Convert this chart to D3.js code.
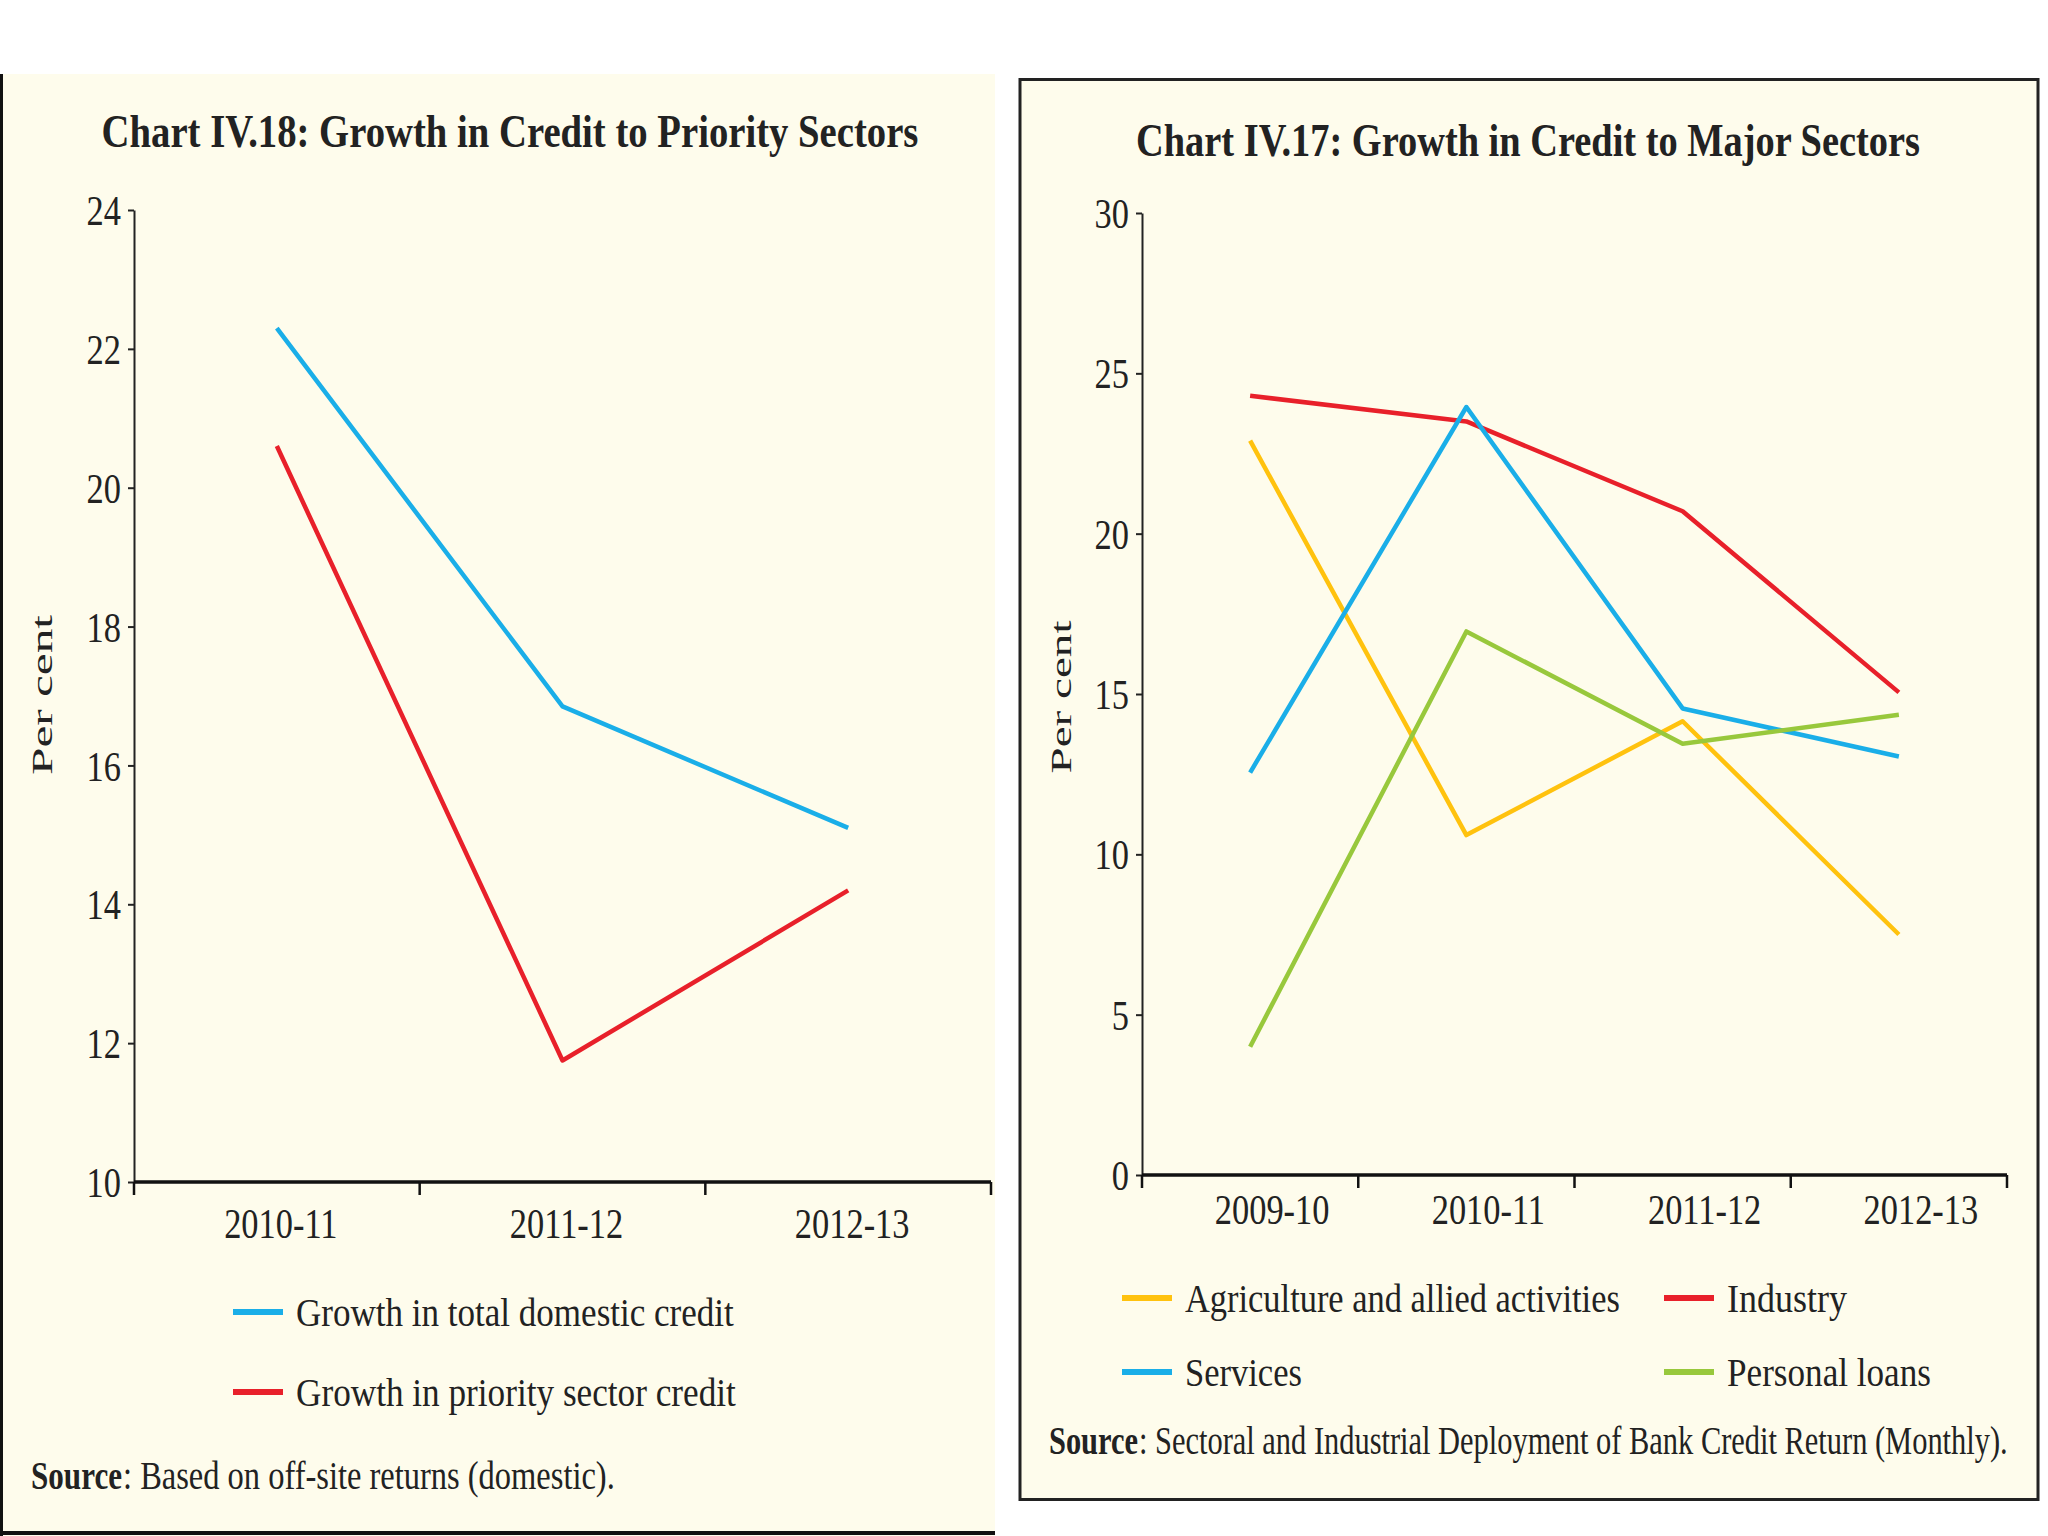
<!DOCTYPE html>
<html>
<head>
<meta charset="utf-8">
<script src="https://cdn.jsdelivr.net/npm/d3@7"></script>
<style>
  body { margin: 0; background: #fff; }
  text { font-family: "Liberation Serif", "DejaVu Serif", serif; fill: #222; }
</style>
</head>
<body>
<svg id="chart" width="2048" height="1536"></svg>
<script>
// chart IV.18 (left)
const leftYears = ['2010-11', '2011-12', '2012-13'];
const totalDomestic = [22.3, 16.85, 15.1];
const prioritySector = [20.6, 11.75, 14.2];
const leftTicks = [10, 12, 14, 16, 18, 20, 22, 24];

// chart IV.17 (right)
const rightYears = ['2009-10', '2010-11', '2011-12', '2012-13'];
const agriculture = [22.9, 10.6, 14.15, 7.5];
const industry = [24.3, 23.5, 20.7, 15.05];
const services = [12.55, 23.95, 14.55, 13.05];
const personalLoans = [4.0, 16.95, 13.45, 14.35];
const rightTicks = [0, 5, 10, 15, 20, 25, 30];

const BLUE = '#1aaee8', RED = '#e8202a', YELLOW = '#ffc20e', GREEN = '#98c83c';
const CREAM = '#fefcec';
const SQUEEZE = 0.8; // narrow serif look for tick labels

const svg = d3.select('#chart');

// squeeze a text to a given width with a horizontal scale
function fitText(t, x, y, width, anchor, rotate) {
  t.attr('x', 0).attr('y', 0).attr('text-anchor', anchor || 'start');
  const w = t.node().getComputedTextLength();
  t.attr('transform', `translate(${x},${y})${rotate ? ' rotate(' + rotate + ')' : ''} scale(${width / w},1)`);
  return t;
}

// panel backgrounds
svg.append('rect').attr('x', 0).attr('y', 74).attr('width', 995).attr('height', 1462).attr('fill', CREAM);
svg.append('line').attr('x1', 1.5).attr('x2', 1.5).attr('y1', 74).attr('y2', 1536).attr('stroke', '#111').attr('stroke-width', 3);
svg.append('line').attr('x1', 0).attr('x2', 995).attr('y1', 1533).attr('y2', 1533).attr('stroke', '#111').attr('stroke-width', 4);
svg.append('rect').attr('x', 1020).attr('y', 79.5).attr('width', 1018).attr('height', 1420)
  .attr('fill', CREAM).attr('stroke', '#222').attr('stroke-width', 3);

function drawPanel(cfg) {
  const g = svg.append('g');

  fitText(g.append('text')
    .attr('font-size', 46).attr('font-weight', 'bold')
    .text(cfg.title), cfg.titleX, cfg.titleY, cfg.titleW, 'middle');

  const x = d3.scaleBand().domain(cfg.years).range([cfg.left, cfg.right]);
  const y = d3.scaleLinear().domain(cfg.yDomain).range([cfg.bottom, cfg.top]);

  // y axis
  const ya = g.append('g')
    .attr('transform', `translate(${cfg.left},0)`)
    .call(d3.axisLeft(y).tickValues(cfg.ticks).tickSize(6).tickSizeOuter(0));
  ya.select('.domain').attr('stroke', '#222').attr('stroke-width', 2);
  ya.selectAll('.tick line').attr('stroke', '#222').attr('stroke-width', 2);
  ya.selectAll('.tick text')
    .attr('font-size', 43).attr('font-family', 'Liberation Serif').attr('fill', '#222')
    .attr('x', -13 / SQUEEZE).attr('dy', '0.34em')
    .attr('transform', `scale(${SQUEEZE},1)`);

  // x axis: labels near band centres, ticks at band edges
  const xa = g.append('g')
    .attr('transform', `translate(${cfg.xLabelShift},${cfg.bottom})`)
    .call(d3.axisBottom(x).tickSize(0).tickPadding(0).tickSizeOuter(0));
  xa.select('.domain').remove();
  xa.selectAll('.tick text')
    .attr('font-size', 43).attr('font-family', 'Liberation Serif').attr('fill', '#222')
    .attr('y', cfg.xLabelDy).attr('dy', 0)
    .attr('transform', `scale(${SQUEEZE},1)`);

  g.append('line')
    .attr('x1', cfg.left).attr('x2', cfg.right)
    .attr('y1', cfg.bottom).attr('y2', cfg.bottom)
    .attr('stroke', '#111').attr('stroke-width', 3.5);
  const edges = d3.range(cfg.years.length + 1).map(i => x.range()[0] + i * x.step());
  g.selectAll('.edge').data(edges).join('line')
    .attr('x1', d => d).attr('x2', d => d)
    .attr('y1', cfg.bottom).attr('y2', cfg.bottom + 13)
    .attr('stroke', '#111').attr('stroke-width', 2.5);

  // y label
  fitText(g.append('text')
    .attr('font-size', 29).attr('font-family', 'DejaVu Serif')
    .text('Per cent'), cfg.yLabelX, cfg.yLabelY, cfg.yLabelW, 'middle', -90);

  // series
  const line = d3.line()
    .x((d, i) => x(cfg.years[i]) + x.bandwidth() / 2)
    .y(d => y(d));
  cfg.series.forEach(s => {
    g.append('path')
      .datum(s.values)
      .attr('d', line)
      .attr('fill', 'none')
      .attr('stroke', s.color)
      .attr('stroke-width', 4.5)
      .attr('stroke-linejoin', 'round');
  });

  // legend
  cfg.series.forEach(s => {
    g.append('line')
      .attr('x1', s.lx).attr('x2', s.lx + 50)
      .attr('y1', s.ly).attr('y2', s.ly)
      .attr('stroke', s.color).attr('stroke-width', 6);
    fitText(g.append('text').attr('font-size', 41).text(s.name),
      s.lx + 63, s.ly + 14, s.lw);
  });

  // source: bold word, then the rest
  fitText(g.append('text').attr('font-size', 39).attr('font-weight', 'bold').text('Source'),
    cfg.srcX, cfg.srcY, cfg.srcBoldW);
  fitText(g.append('text').attr('font-size', 39).text(': ' + cfg.source),
    cfg.srcX + cfg.srcBoldW + 1, cfg.srcY, cfg.srcW);
}

drawPanel({
  title: 'Chart IV.18: Growth in Credit to Priority Sectors',
  titleX: 510, titleY: 147, titleW: 817,
  years: leftYears, ticks: leftTicks, yDomain: [10, 24],
  left: 134, right: 991, top: 210, bottom: 1182,
  xLabelDy: 56, xLabelShift: 4,
  yLabelX: 52, yLabelY: 695, yLabelW: 160,
  series: [
    { name: 'Growth in total domestic credit', values: totalDomestic, color: BLUE, lx: 233, ly: 1312, lw: 438 },
    { name: 'Growth in priority sector credit', values: prioritySector, color: RED, lx: 233, ly: 1392, lw: 440 }
  ],
  srcX: 31, srcY: 1489, srcBoldW: 91, srcW: 492,
  source: 'Based on off-site returns (domestic).'
});

drawPanel({
  title: 'Chart IV.17: Growth in Credit to Major Sectors',
  titleX: 1528, titleY: 156, titleW: 784,
  years: rightYears, ticks: rightTicks, yDomain: [0, 30],
  left: 1142, right: 2007, top: 213, bottom: 1175,
  xLabelDy: 49, xLabelShift: 22,
  yLabelX: 1071, yLabelY: 697, yLabelW: 153,
  series: [
    { name: 'Agriculture and allied activities', values: agriculture, color: YELLOW, lx: 1122, ly: 1298, lw: 435 },
    { name: 'Industry', values: industry, color: RED, lx: 1664, ly: 1298, lw: 120 },
    { name: 'Services', values: services, color: BLUE, lx: 1122, ly: 1372, lw: 117 },
    { name: 'Personal loans', values: personalLoans, color: GREEN, lx: 1664, ly: 1372, lw: 204 }
  ],
  srcX: 1049, srcY: 1454, srcBoldW: 89, srcW: 869,
  source: 'Sectoral and Industrial Deployment of Bank Credit Return (Monthly).'
});
</script>
</body>
</html>
